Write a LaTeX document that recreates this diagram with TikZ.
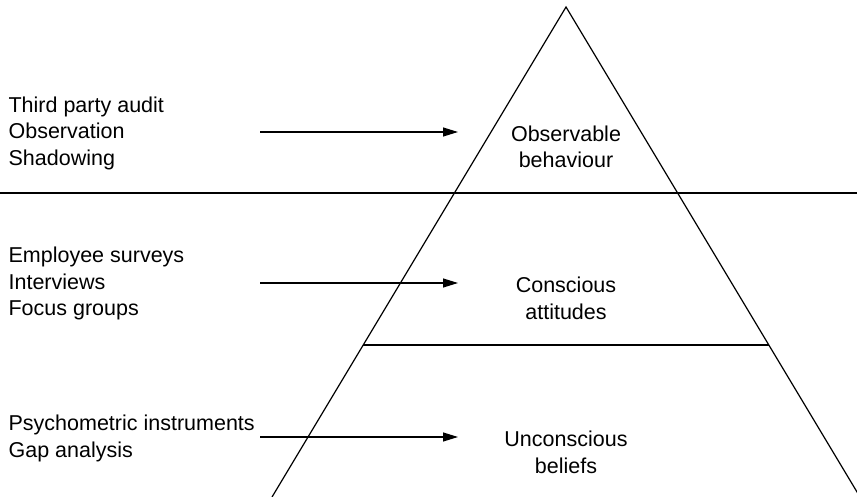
\documentclass[tikz,border=0pt]{standalone}
\usepackage{fontspec}
\setmainfont{Liberation Sans}
\usetikzlibrary{arrows.meta,calc}
\begin{document}
\begin{tikzpicture}[x=1pt,y=-1pt,line width=1.2pt,
  methods/.style={anchor=north west,align=left,inner sep=0pt,font=\fontsize{21.5}{26.6}\selectfont},
  layer/.style={anchor=north,align=center,inner sep=0pt,font=\fontsize{21.5}{26.6}\selectfont},
  feed/.style={-{Triangle[length=15pt,width=9pt]}}]
\useasboundingbox (0,0) rectangle (857,497);
\clip (0,0) rectangle (857,497);
\coordinate (apex) at (566,7);
\coordinate (baseL) at (272,497);
\coordinate (baseR) at (860,497);
\coordinate (midL) at ($(apex)!{338/490}!(baseL)$);
\coordinate (midR) at ($(apex)!{338/490}!(baseR)$);
\draw (baseL)--(apex)--(baseR);
\draw (0,193)--(857,193);
\draw (midL)--(midR);
\node[methods] (obsmeth) at (8,96) {Third party audit\\Observation\\Shadowing};
\node[methods] (attmeth) at (8,246.3) {Employee surveys\\Interviews\\Focus groups};
\node[methods] (belmeth) at (8,414.3) {Psychometric instruments\\Gap analysis};
\node[layer] (behaviour) at (566,125) {Observable\\behaviour};
\node[layer] (attitudes) at (566,276.5) {Conscious\\attitudes};
\node[layer] (beliefs) at (566,430.5) {Unconscious\\beliefs};
\coordinate (in1) at (260,132);
\coordinate (out1) at (458,132);
\coordinate (in2) at (260,283);
\coordinate (out2) at (458,283);
\coordinate (in3) at (260,437);
\coordinate (out3) at (458,437);
\draw[feed] (in1)--(out1);
\draw[feed] (in2)--(out2);
\draw[feed] (in3)--(out3);
\end{tikzpicture}
\end{document}
